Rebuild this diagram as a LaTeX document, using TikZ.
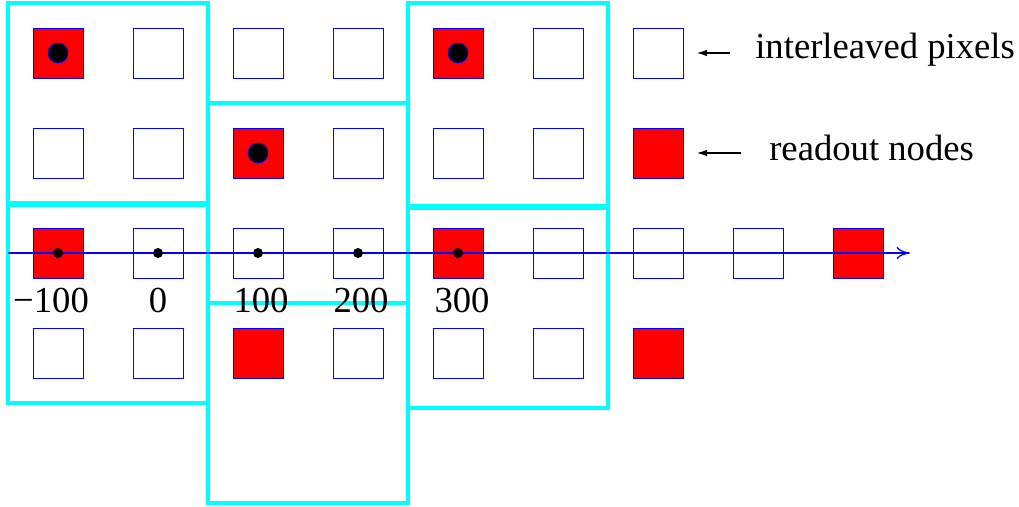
\documentclass[tikz,border=0pt]{standalone}
\usepackage{fontspec}
\setmainfont{Liberation Serif}
\usetikzlibrary{arrows.meta}
\definecolor{cyanline}{RGB}{0,255,255}
\definecolor{pureblue}{RGB}{0,0,255}
\definecolor{purered}{RGB}{255,0,0}
\begin{document}
\begin{tikzpicture}[x=0.75pt,y=-0.75pt,
  pix/.style={draw=pureblue,line width=0.7pt,fill=white,minimum size=37.5pt,inner sep=0pt,outer sep=0pt},
  rnode/.style={pix,fill=purered},
  cbox/.style={draw=cyanline,line width=2.3pt},
  bigdot/.style={circle,fill=black,draw=pureblue,line width=0.5pt,minimum size=15pt,inner sep=0pt},
  smalldot/.style={circle,fill=black,minimum size=7.5pt,inner sep=0pt},
  lbl/.style={font=\fontsize{27.5}{30}\selectfont,inner sep=0pt},
  larrow/.style={line width=1.3pt,-{Latex[length=8pt,width=5pt]}}
]
\useasboundingbox (0,0) rectangle (1019,506);
% row 1
\node[rnode] (r1a) at (58,53) {};
\node[pix] (r1b) at (158,53) {};
\node[pix] (r1c) at (258,53) {};
\node[pix] (r1d) at (358,53) {};
\node[rnode] (r1e) at (458,53) {};
\node[pix] (r1f) at (558,53) {};
\node[pix] (r1g) at (658,53) {};
% row 2
\node[pix] (r2a) at (58,153) {};
\node[pix] (r2b) at (158,153) {};
\node[rnode] (r2c) at (258,153) {};
\node[pix] (r2d) at (358,153) {};
\node[pix] (r2e) at (458,153) {};
\node[pix] (r2f) at (558,153) {};
\node[rnode] (r2g) at (658,153) {};
% row 3
\node[rnode] (r3a) at (58,253) {};
\node[pix] (r3b) at (158,253) {};
\node[pix] (r3c) at (258,253) {};
\node[pix] (r3d) at (358,253) {};
\node[rnode] (r3e) at (458,253) {};
\node[pix] (r3f) at (558,253) {};
\node[pix] (r3g) at (658,253) {};
\node[pix] (r3h) at (758,253) {};
\node[rnode] (r3i) at (858,253) {};
% row 4
\node[pix] (r4a) at (58,353) {};
\node[pix] (r4b) at (158,353) {};
\node[rnode] (r4c) at (258,353) {};
\node[pix] (r4d) at (358,353) {};
\node[pix] (r4e) at (458,353) {};
\node[pix] (r4f) at (558,353) {};
\node[rnode] (r4g) at (658,353) {};
% cyan clusters
\draw[cbox] (8,3) rectangle (208,203);
\draw[cbox] (8,205) rectangle (208,403);
\draw[cbox] (208,103) rectangle (408,303);
\draw[cbox] (208,303) rectangle (408,503);
\draw[cbox] (408,3) rectangle (608,206);
\draw[cbox] (408,208) rectangle (608,408);
% axis
\coordinate (axL) at (8,253);
\coordinate (axR) at (910,253);
\draw[pureblue,line width=1pt,-{To[length=10pt,width=9pt]}] (axL) -- (axR);
% dots
\node[bigdot] (d1) at (r1a) {};
\node[bigdot] (d2) at (r2c) {};
\node[bigdot] (d3) at (r1e) {};
\node[smalldot] (a1) at (r3a) {};
\node[smalldot] (a2) at (r3b) {};
\node[smalldot] (a3) at (r3c) {};
\node[smalldot] (a4) at (r3d) {};
\node[smalldot] (a5) at (r3e) {};
% axis labels
\node[lbl] (t1) at (51,300) {−100};
\node[lbl] (t2) at (158,300) {0};
\node[lbl] (t3) at (261,300) {100};
\node[lbl] (t4) at (361,300) {200};
\node[lbl] (t5) at (462,300) {300};
% legend
\node[lbl,anchor=west] (l1) at (755,50) {interleaved pixels};
\node[lbl,anchor=west] (l2) at (769,148) {readout nodes};
\coordinate (c1) at (730,53);
\coordinate (c2) at (741,153);
\draw[larrow] (c1) -- ([xshift=10pt]r1g.east);
\draw[larrow] (c2) -- ([xshift=10pt]r2g.east);
\end{tikzpicture}
\end{document}
